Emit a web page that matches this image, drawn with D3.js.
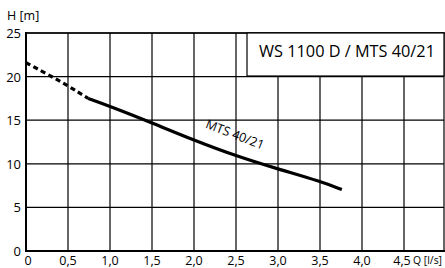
<!DOCTYPE html>
<html><head><meta charset="utf-8">
<script src="https://cdn.jsdelivr.net/npm/d3@7"></script>
<style>html,body{margin:0;padding:0;background:#fff;}svg{display:block;font-family:"Open Sans",sans-serif;}</style>
</head><body>
<svg id="c" width="445" height="268"></svg>
<script>
const xTicks = [0, 0.5, 1.0, 1.5, 2.0, 2.5, 3.0, 3.5, 4.0, 4.5];
const xTickLabels = ["0", "0,5", "1,0", "1,5", "2,0", "2,5", "3,0", "3,5", "4,0", "4,5"];
const yTicks = [0, 5, 10, 15, 20, 25];
const dashedQ = [0, 0.25, 0.5, 0.74];
const dashedH = [21.6, 20.3, 18.95, 17.5];
const solidQ = [0.74, 1.0, 1.5, 2.0, 2.5, 3.0, 3.5, 3.76];
const solidH = [17.5, 16.6, 14.7, 12.7, 10.9, 9.4, 8.0, 7.05];
const seriesLabel = "MTS 40/21";
const legendTitle = "WS 1100 D / MTS 40/21";

const svg = d3.select("#c");
const x = d3.scaleLinear().domain([0, 5]).range([26, 446]);
const y = d3.scaleLinear().domain([0, 25]).range([251, 33]);

// grid
svg.append("g").selectAll("line").data(xTicks.slice(1)).join("line")
  .attr("x1", d => x(d)).attr("x2", d => x(d)).attr("y1", y(25)).attr("y2", y(0))
  .attr("stroke", "#000").attr("stroke-width", 1.2);
svg.append("g").selectAll("line").data(yTicks.slice(1)).join("line")
  .attr("x1", x(0)).attr("x2", 444).attr("y1", d => y(d)).attr("y2", d => y(d))
  .attr("stroke", "#000").attr("stroke-width", 1.2);
// right border
svg.append("line").attr("x1", 444).attr("x2", 444).attr("y1", y(25)).attr("y2", y(0))
  .attr("stroke", "#000").attr("stroke-width", 1.2);
// axes
svg.append("line").attr("x1", x(0)).attr("x2", x(0)).attr("y1", y(25) - 1).attr("y2", y(0) + 1)
  .attr("stroke", "#000").attr("stroke-width", 2);
svg.append("line").attr("x1", x(0)).attr("x2", 445).attr("y1", y(0)).attr("y2", y(0))
  .attr("stroke", "#000").attr("stroke-width", 2);
svg.append("line").attr("x1", x(0)).attr("x2", 445).attr("y1", y(25)).attr("y2", y(25))
  .attr("stroke", "#000").attr("stroke-width", 1.6);

// legend box
svg.append("rect").attr("x", 247).attr("y", y(25)).attr("width", 197).attr("height", 43)
  .attr("fill", "#fff").attr("stroke", "#000").attr("stroke-width", 1.2);
svg.append("text").attr("x", 347).attr("y", 57).attr("text-anchor", "middle")
  .attr("font-size", 16.3).text(legendTitle);

// curves
const line = d3.line().x(d => x(d[0])).y(d => y(d[1])).curve(d3.curveBasis);
svg.append("path").datum(dashedQ.map((q, i) => [q, dashedH[i]])).attr("d", line)
  .attr("fill", "none").attr("stroke", "#000").attr("stroke-width", 3.2).attr("stroke-dasharray", "5,3.5");
svg.append("path").datum(solidQ.map((q, i) => [q, solidH[i]])).attr("d", line)
  .attr("fill", "none").attr("stroke", "#000").attr("stroke-width", 3.2);

svg.append("text").attr("transform", `translate(${x(2.47)},${y(12.9)}) rotate(21)`)
  .attr("text-anchor", "middle").attr("font-size", 12.5).text(seriesLabel);

// tick labels
svg.append("g").selectAll("text").data(xTicks).join("text")
  .attr("x", (d, i) => i === 0 ? x(d) + 2 : (i === xTicks.length - 1 ? x(d) - 2 : x(d)))
  .attr("y", 265).attr("text-anchor", "middle")
  .attr("font-size", 12.5).text((d, i) => xTickLabels[i]);
svg.append("text").attr("x", 413).attr("y", 264).attr("font-size", 11.5)
  .attr("textLength", 29).attr("lengthAdjust", "spacingAndGlyphs").text("Q [l/s]");
svg.append("g").selectAll("text").data(yTicks).join("text")
  .attr("x", 21).attr("y", d => y(d) + 5).attr("text-anchor", "end")
  .attr("font-size", 13).text(d => d);
svg.append("text").attr("x", 7).attr("y", 20).attr("font-size", 12.5).text("H [m]");
</script>
</body></html>
